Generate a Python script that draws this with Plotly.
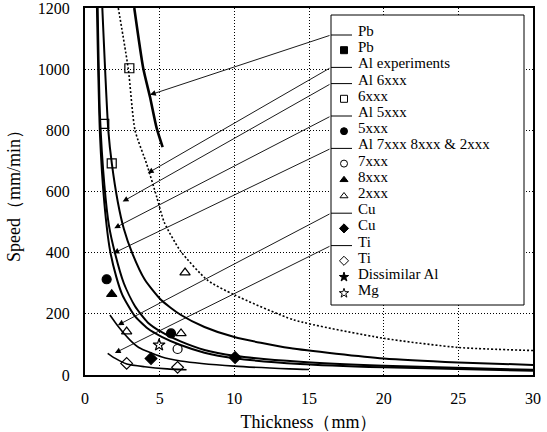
import plotly.graph_objects as go

# ---------------- data ----------------
pb_t = [3.3, 3.9, 4.35, 4.8, 5.2]
pb_v = [1200, 1003, 910, 807, 745]

alexp_t = [2.23, 2.9, 3.35, 4.13, 4.8, 5.3, 6.4, 8.2, 10, 14, 20, 25, 30]
alexp_v = [1200, 1000, 800, 690, 583, 500, 405, 310, 262, 180, 120, 90, 80]

al6_t = [1.16, 1.56, 1.8, 2.2, 2.6, 3.15, 4.0, 5.1, 6.4, 8.0, 10, 13.7, 20, 25, 30]
al6_v = [1200, 800, 690, 565, 478, 400, 312, 245, 197, 157, 124, 88, 54, 41, 33]

al5_t = [0.8, 1.0, 1.3, 1.67, 2.1, 2.5, 3.3, 4.2, 5.14, 6.4, 8.0, 10, 14.4, 20, 30]
al5_v = [1200, 790, 560, 409, 320, 262, 195, 152, 125, 98, 73, 55, 36, 25, 14]

al7_t = [0.85, 1.0, 1.3, 1.6, 2.0, 2.6, 3.35, 4.2, 5.14, 6.4, 8.0, 10, 14.4, 20, 30]
al7_v = [1200, 850, 620, 490, 400, 300, 225, 172, 140, 110, 82, 63, 43, 30, 17]

cu_t = [1.67, 2.2, 3.0, 3.6, 5.1, 6.4, 10, 13.7, 15]
cu_v = [196, 160, 115, 90, 60, 46, 29, 20, 18]

ti_t = [1.52, 2.0, 2.8, 4.0, 5.5, 6.8]
ti_v = [71, 55, 36, 27, 20, 17]

pts_6xxx_t = [2.97, 1.29, 1.79]
pts_6xxx_v = [1003, 821, 692]
pts_5xxx_t = [1.45, 5.76]
pts_5xxx_v = [313, 136]
pts_7xxx_t = [6.2]
pts_7xxx_v = [85]
pts_8xxx_t = [1.79]
pts_8xxx_v = [264]
pts_2xxx_t = [6.7, 2.79, 6.43]
pts_2xxx_v = [335, 142, 136]
pts_cu_t = [4.42, 10.05]
pts_cu_v = [54, 57]
pts_ti_t = [2.79, 6.2]
pts_ti_v = [38, 25]
pts_mg_t = [4.96]
pts_mg_v = [98]

x_ticks = [0, 5, 10, 15, 20, 25, 30]
y_ticks = [0, 200, 400, 600, 800, 1000, 1200]

legend_labels = ["Pb", "Pb", "Al experiments", "Al 6xxx", "6xxx", "Al 5xxx", "5xxx",
                 "Al 7xxx 8xxx & 2xxx", "7xxx", "8xxx", "2xxx", "Cu", "Cu", "Ti", "Ti",
                 "Dissimilar Al", "Mg"]
legend_kinds = ["line", "square", "line", "line", "square-open", "line", "circle",
                "line", "circle-open", "triangle-up", "triangle-up-open", "line", "diamond",
                "line", "diamond-open", "star", "star-open"]
# arrow tips (data coords) for the line entries, in order of line entries
arrow_tips_t = [4.35, 4.2, 2.52, 1.96, 1.9, 2.2, 2.0]
arrow_tips_v = [916, 660, 567, 480, 398, 163, 72]

# ---------------- layout geometry (pixels) ----------------
W, H = 547, 432
L, R, T, B = 85, 533, 8, 375
XR = (0, 30)
YR = (0, 1200)


def px_to_data(px, py):
    t = XR[0] + (px - L) / (R - L) * (XR[1] - XR[0])
    v = YR[0] + (B - py) / (B - T) * (YR[1] - YR[0])
    return t, v


FONT = "Times New Roman, Liberation Serif, serif"
fig = go.Figure()

curve_specs = [
    (pb_t, pb_v, 2.6, "solid"),
    (alexp_t, alexp_v, 1.6, "2px,2px"),
    (al6_t, al6_v, 2.0, "solid"),
    (al5_t, al5_v, 2.0, "solid"),
    (al7_t, al7_v, 2.0, "solid"),
    (cu_t, cu_v, 1.6, "solid"),
    (ti_t, ti_v, 1.6, "solid"),
]
for tx, vy, w, d in curve_specs:
    fig.add_trace(go.Scatter(x=tx, y=vy, mode="lines",
                             line=dict(color="black", width=w, dash=d, shape="spline", smoothing=0.6),
                             showlegend=False, hoverinfo="skip"))

marker_specs = [
    (pts_6xxx_t, pts_6xxx_v, "square-open"),
    (pts_5xxx_t, pts_5xxx_v, "circle"),
    (pts_7xxx_t, pts_7xxx_v, "circle-open"),
    (pts_8xxx_t, pts_8xxx_v, "triangle-up"),
    (pts_2xxx_t, pts_2xxx_v, "triangle-up-open"),
    (pts_cu_t, pts_cu_v, "diamond"),
    (pts_ti_t, pts_ti_v, "diamond-open"),
    (pts_mg_t, pts_mg_v, "star-open"),
]
for tx, vy, sym in marker_specs:
    fig.add_trace(go.Scatter(x=tx, y=vy, mode="markers",
                             marker=dict(symbol=sym, size=9, color="black",
                                         line=dict(color="black", width=1.2)),
                             showlegend=False, hoverinfo="skip"))

# ---------------- custom legend on an overlay pixel axis ----------------
LEG_L, LEG_R, LEG_T, LEG_B = 331, 524, 15, 305
row0, dy = 31, 16.2
bx0, by0 = px_to_data(LEG_L, LEG_B)
bx1, by1 = px_to_data(LEG_R, LEG_T)
shapes = [dict(type="rect", xref="x", yref="y", x0=bx0, x1=bx1, y0=by0, y1=by1,
               line=dict(color="black", width=1), fillcolor="white", layer="between")]
annotations = []
line_rows = []
for i, (lab, kind) in enumerate(zip(legend_labels, legend_kinds)):
    yc = row0 + dy * i
    if kind == "line":
        ly = yc + 4
        fig.add_trace(go.Scatter(x=[LEG_L, LEG_L + 21], y=[ly, ly], xaxis="x2", yaxis="y2",
                                 mode="lines", line=dict(color="black", width=1),
                                 showlegend=False, hoverinfo="skip"))
        line_rows.append(ly)
    else:
        fig.add_trace(go.Scatter(x=[LEG_L + 13], y=[yc + 3], xaxis="x2", yaxis="y2",
                                 mode="markers",
                                 marker=dict(symbol=kind, size=7, color="black",
                                             line=dict(color="black", width=1)),
                                 showlegend=False, hoverinfo="skip"))
    annotations.append(dict(x=LEG_L + 25, y=yc, xref="x2", yref="y2", text=lab,
                            showarrow=False, xanchor="left", yanchor="middle",
                            font=dict(family=FONT, size=15, color="black")))

for ly, tt, tv in zip(line_rows, arrow_tips_t, arrow_tips_v):
    at, av = px_to_data(LEG_L, ly)
    annotations.append(dict(x=tt, y=tv, xref="x", yref="y", ax=at, ay=av, axref="x", ayref="y",
                            showarrow=True, arrowhead=2, arrowsize=1.3, arrowwidth=0.9,
                            arrowcolor="black", text=""))

fig.update_layout(
    width=W, height=H,
    margin=dict(l=L, r=W - R, t=T, b=H - B, autoexpand=False),
    paper_bgcolor="white", plot_bgcolor="white",
    font=dict(family=FONT, size=16, color="black"),
    showlegend=False,
    xaxis=dict(range=list(XR), tickvals=x_ticks, ticktext=[str(v) for v in x_ticks],
               showgrid=True, gridcolor="black", griddash="1px,2px", gridwidth=1,
               showline=True, linecolor="black", linewidth=2, mirror=True,
               ticks="", zeroline=False, ticklabelstandoff=8, automargin=False,
               ticklabeloverflow="allow",
               tickfont=dict(family=FONT, size=16),
               title=dict(text="Thickness（mm）", font=dict(family=FONT, size=18), standoff=12)),
    yaxis=dict(range=list(YR), tickvals=y_ticks, ticktext=[str(v) for v in y_ticks],
               showgrid=True, gridcolor="black", griddash="1px,2px", gridwidth=1,
               showline=True, linecolor="black", linewidth=2, mirror=True,
               ticks="", zeroline=False, ticklabelstandoff=10, automargin=False,
               ticklabeloverflow="allow",
               tickfont=dict(family=FONT, size=16),
               title=dict(text="Speed（mm/min）", font=dict(family=FONT, size=18), standoff=12)),
    xaxis2=dict(range=[L, R], overlaying="x", anchor="y2", visible=False, fixedrange=True),
    yaxis2=dict(range=[B, T], overlaying="y", anchor="x2", visible=False, fixedrange=True),
    shapes=shapes,
    annotations=annotations,
)

fig.write_html("out.html")
